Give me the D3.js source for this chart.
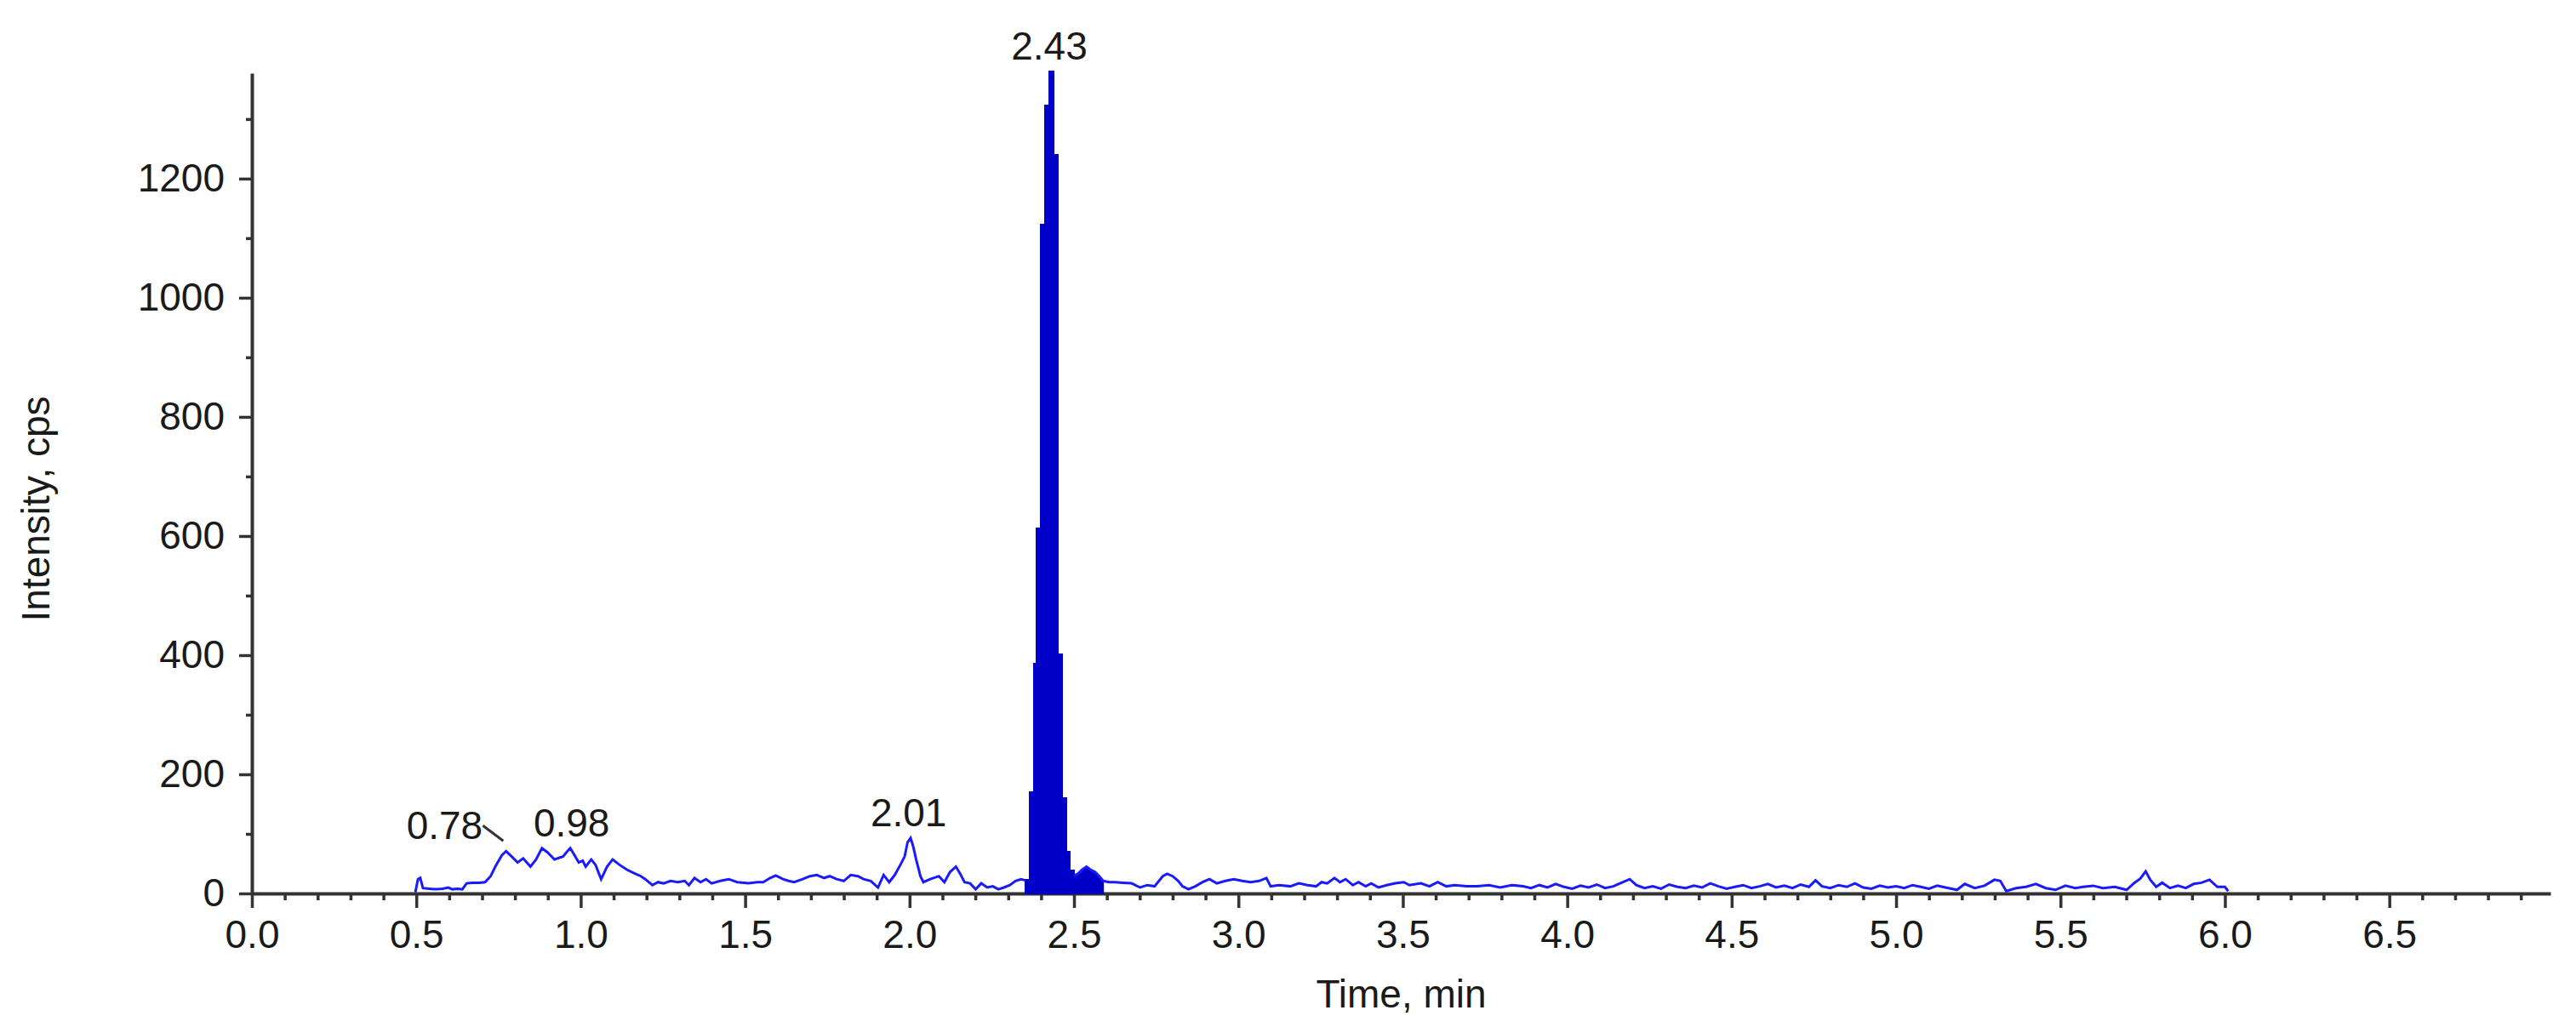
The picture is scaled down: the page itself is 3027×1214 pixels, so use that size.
<!DOCTYPE html>
<html>
<head>
<meta charset="utf-8">
<script src="https://cdn.jsdelivr.net/npm/d3@7/dist/d3.min.js"></script>
<style>
  html, body { margin: 0; padding: 0; background: #fff; }
  svg { display: block; }
  text { font-family: Arial, "Liberation Sans", sans-serif; fill: #1a1a1a; }
</style>
</head>
<body>
<svg id="chart" width="3027" height="1214"></svg>
<script>
// ---------------- DATA ----------------
const times = [
  0.497,0.505,0.512,0.52,0.54,0.56,0.58,0.597,0.61,0.625,0.64,0.653,0.67,0.69,0.709,0.726,0.743,0.76,0.773,0.79,
  0.808,0.825,0.847,0.864,0.882,0.899,0.92,0.935,0.946,0.958,0.968,0.976,0.994,1.006,1.015,1.032,1.045,1.062,1.08,1.097,
  1.118,1.14,1.166,1.183,1.196,1.218,1.235,1.252,1.273,1.295,1.316,1.329,1.346,1.364,1.381,1.398,1.424,1.45,1.476,1.51,
  1.537,1.555,1.576,1.593,1.615,1.632,1.649,1.675,1.697,1.718,1.74,1.757,1.778,1.8,1.821,1.843,1.86,1.882,1.904,1.921,
  1.938,1.955,1.972,1.985,1.994,2.003,2.011,2.02,2.033,2.042,2.063,2.089,2.106,2.123,2.141,2.154,2.167,2.184,2.201,2.218,
  2.236,2.253,2.27,2.287,2.305,2.322,2.339,2.352,2.365,2.378,2.388,2.399,2.412,2.425,2.438,2.451,2.464,2.475,2.487,2.5,
  2.512,2.525,2.538,2.55,2.564,2.575,2.589,2.607,2.624,2.65,2.675,2.701,2.723,2.745,2.77,2.783,2.8,2.817,2.83,2.848,
  2.869,2.891,2.912,2.934,2.96,2.986,3.012,3.037,3.063,3.085,3.098,3.124,3.158,3.184,3.21,3.236,3.253,3.27,3.292,3.309,
  3.326,3.348,3.365,3.387,3.404,3.426,3.451,3.477,3.503,3.52,3.555,3.581,3.606,3.632,3.658,3.693,3.727,3.762,3.796,3.831,
  3.865,3.89,3.915,3.94,3.965,3.99,4.015,4.04,4.065,4.09,4.115,4.14,4.165,4.19,4.21,4.235,4.26,4.285,4.31,4.335,
  4.36,4.385,4.41,4.435,4.46,4.485,4.51,4.535,4.56,4.585,4.61,4.635,4.66,4.685,4.71,4.735,4.755,4.775,4.8,4.825,
  4.85,4.875,4.9,4.925,4.95,4.975,5.0,5.025,5.05,5.075,5.1,5.125,5.15,5.185,5.209,5.239,5.269,5.299,5.317,5.335,
  5.365,5.395,5.425,5.455,5.485,5.515,5.545,5.569,5.599,5.629,5.665,5.701,5.725,5.743,5.759,5.773,5.791,5.809,5.833,5.857,
  5.881,5.905,5.929,5.953,5.977,6.0,6.01
];
const intensity = [
  2,24,26,9,8,7,8,10,7,8,7,17,18,18,19,29,48,64,71,62,
  52,59,45,57,76,69,57,60,62,70,76,69,52,55,45,57,48,24,45,57,
  48,40,33,29,24,14,19,17,21,19,21,14,26,19,24,17,21,24,19,17,
  19,19,26,30,24,21,19,24,29,31,26,29,24,21,31,29,24,21,10,31,
  19,31,48,62,86,93,79,57,29,19,24,29,19,36,45,33,19,17,7,17,
  10,12,7,10,14,21,24,22,170,386,612,1122,1323,1380,1240,401,160,70,38,30,
  33,40,45,40,36,30,21,19,19,18,17,10,14,12,29,33,29,21,12,7,
  12,19,24,17,21,24,21,19,21,26,12,14,12,17,14,12,19,17,26,19,
  24,14,19,12,17,10,14,17,19,14,17,12,19,12,14,12,12,14,10,14,
  12,9,14,10,16,11,8,13,10,15,9,12,18,24,14,9,12,8,15,11,
  9,13,10,17,12,8,11,14,9,12,16,10,13,9,15,11,22,12,9,14,
  11,17,10,8,13,10,12,9,14,11,8,13,10,6,16,9,13,23,21,4,
  9,11,16,9,6,13,9,11,13,9,11,6,18,25,37,23,11,18,9,13,
  9,16,18,23,11,11,4
];
// integrated (shaded) peak window, min
const peakStepStart = 2.352, peakStepEnd = 2.5, fillEnd = 2.589;
// annotated retention times and their apex intensities
const peakLabelTimes = [0.78, 0.98, 2.01, 2.43];
const peakLabelHeights = [71, 76, 93, 1380];
const xMajorTicks = [0,0.5,1,1.5,2,2.5,3,3.5,4,4.5,5,5.5,6,6.5];
const yMajorTicks = [0,200,400,600,800,1000,1200];
const xTitle = "Time, min";
const yTitle = "Intensity, cps";

// ---------------- CHART ----------------
const svg = d3.select("#chart");
svg.append("rect").attr("width", 3027).attr("height", 1214).attr("fill", "#fff");

const x = d3.scaleLinear().domain([0, 6.99]).range([296, 2997]);
const y = d3.scaleLinear().domain([0, 1377]).range([1050, 86]);

const pts = times.map((t, i) => ({t, v: intensity[i]}));
const axisColor = "#333";
const fs = 46;

// minor ticks
const xMinor = d3.range(0, 70).map(i => i / 10).filter(v => Math.abs(v * 2 - Math.round(v * 2)) > 1e-6);
const yMinor = d3.range(100, 1400, 200);

const gxMinor = svg.append("g").attr("transform", `translate(0,${y(0)})`)
  .call(d3.axisBottom(x).tickValues(xMinor).tickSize(8).tickSizeOuter(0).tickFormat(""));
const gyMinor = svg.append("g").attr("transform", `translate(${x(0)},0)`)
  .call(d3.axisLeft(y).tickValues(yMinor).tickSize(7).tickSizeOuter(0).tickFormat(""));

const gx = svg.append("g").attr("transform", `translate(0,${y(0)})`)
  .call(d3.axisBottom(x).tickValues(xMajorTicks).tickSize(17).tickSizeOuter(0).tickPadding(14).tickFormat(d3.format(".1f")));
const gy = svg.append("g").attr("transform", `translate(${x(0)},0)`)
  .call(d3.axisLeft(y).tickValues(yMajorTicks).tickSize(15).tickSizeOuter(0).tickPadding(17).tickFormat(d3.format("d")));

[gxMinor, gyMinor, gx, gy].forEach(g => {
  g.selectAll("path.domain").attr("stroke", axisColor).attr("stroke-width", 4);
  g.selectAll(".tick line").attr("stroke", axisColor).attr("stroke-width", 3.5);
  g.selectAll(".tick text").attr("font-size", fs).attr("fill", "#1a1a1a")
    .style("font-family", 'Arial, "Liberation Sans", sans-serif');
});
gyMinor.select("path.domain").remove();
gxMinor.select("path.domain").remove();

// shaded peak
const stepPts = pts.filter(d => d.t >= peakStepStart - 1e-9 && d.t <= peakStepEnd + 1e-9);
const tailPts = pts.filter(d => d.t >= peakStepEnd - 1e-9 && d.t <= fillEnd + 1e-9);
const fillColor = "#0000c8", lineColor = "#1a1aff";

svg.append("path").datum(stepPts)
  .attr("fill", fillColor).attr("stroke", fillColor).attr("stroke-width", 2.5)
  .attr("shape-rendering", "crispEdges")
  .attr("d", d3.area().curve(d3.curveStepAfter).x(d => x(d.t)).y0(y(0)).y1(d => y(d.v)));
svg.append("path").datum(tailPts)
  .attr("fill", fillColor).attr("stroke", fillColor).attr("stroke-width", 1.5)
  .attr("d", d3.area().x(d => x(d.t)).y0(y(0)).y1(d => y(d.v)));

// trace (peak outline is covered by the shaded area)
const before = pts.filter(d => d.t <= peakStepStart + 1e-9);
const after = pts.filter(d => d.t >= peakStepEnd - 1e-9);
const lineGen = d3.line().x(d => x(d.t)).y(d => y(d.v));
svg.append("path").datum(before).attr("fill", "none").attr("stroke", lineColor).attr("stroke-width", 3).attr("d", lineGen);
svg.append("path").datum(after).attr("fill", "none").attr("stroke", lineColor).attr("stroke-width", 3).attr("d", lineGen);

// peak labels
const labelDx = [-75, -3, -5, -2];
peakLabelTimes.forEach((t, i) => {
  svg.append("text")
    .attr("x", x(t) + labelDx[i])
    .attr("y", y(peakLabelHeights[i]) - 14)
    .attr("text-anchor", "middle")
    .attr("font-size", fs)
    .text(t.toFixed(2));
});
// leader for 0.78
svg.append("line")
  .attr("x1", x(0.78) - 30).attr("y1", y(71) - 30)
  .attr("x2", x(0.78) - 6).attr("y2", y(71) - 12)
  .attr("stroke", "#333").attr("stroke-width", 3);

// axis titles
svg.append("text")
  .attr("x", (x.range()[0] + x.range()[1]) / 2)
  .attr("y", 1184)
  .attr("text-anchor", "middle")
  .attr("font-size", fs)
  .text(xTitle);
svg.append("text")
  .attr("transform", "translate(58,598) rotate(-90)")
  .attr("text-anchor", "middle")
  .attr("font-size", fs)
  .text(yTitle);
</script>
</body>
</html>
